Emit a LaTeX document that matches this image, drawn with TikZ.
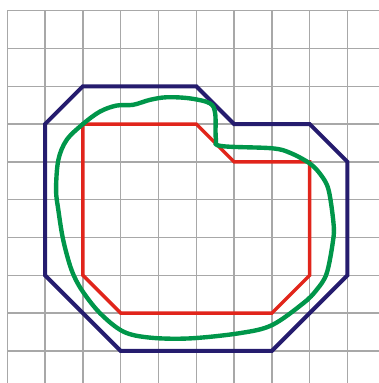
\documentclass[tikz,border=0pt]{standalone}
\usepackage{tikz}
\usepackage{xcolor}
\definecolor{gridgray}{HTML}{A8A8A8}
\definecolor{outerblue}{HTML}{251C6E}
\definecolor{innerred}{HTML}{E1251B}
\definecolor{curvegreen}{HTML}{00964A}

\begin{document}
\begin{tikzpicture}[yscale=-1,line join=miter]
    % Picture frame, grid unit = 1 square
    \useasboundingbox (-0.193,-0.283) rectangle (9.833,9.85);
    % Grid
    \foreach \i in {0,...,9} {
        \draw[gridgray,line width=0.95pt] (\i,0) -- (\i,9.85);
        \draw[gridgray,line width=0.95pt] (0,\i) -- (9.833,\i);
    }
    % Outer polygon
    \draw[outerblue,line width=3pt] (1,3) -- (2,2) -- (5,2) -- (6,3) -- (8,3) -- (9,4)
        -- (9,7) -- (7,9) -- (3,9) -- (1,7) -- cycle;
    % Inner polygon
    \draw[innerred,line width=2.6pt] (2,3) -- (5,3) -- (6,4) -- (8,4) -- (8,7)
        -- (7,8) -- (3,8) -- (2,7) -- cycle;
    % Smooth curve between them
    \draw[curvegreen,line width=3.3pt] plot[smooth cycle,tension=0.55] coordinates {
        (2,3) (2.45,2.67) (2.89,2.51) (3.33,2.49) (3.77,2.36) (4.22,2.29)
        (4.83,2.32) (5.36,2.45) (5.50,2.72) (5.52,3.40) (5.66,3.58) (7.0,3.64)
        (7.48,3.76) (8.0,4.04) (8.30,4.35) (8.50,4.74) (8.63,5.62) (8.62,6.07)
        (8.45,6.95) (8.18,7.39) (7.83,7.74) (7.0,8.32) (6.16,8.53) (4.83,8.67)
        (3.78,8.65) (3.07,8.49) (2.45,8.0) (1.97,7.39) (1.70,6.86) (1.48,6.07)
        (1.35,5.27) (1.29,4.74) (1.35,3.95) (1.57,3.42)};
\end{tikzpicture}
\end{document}
